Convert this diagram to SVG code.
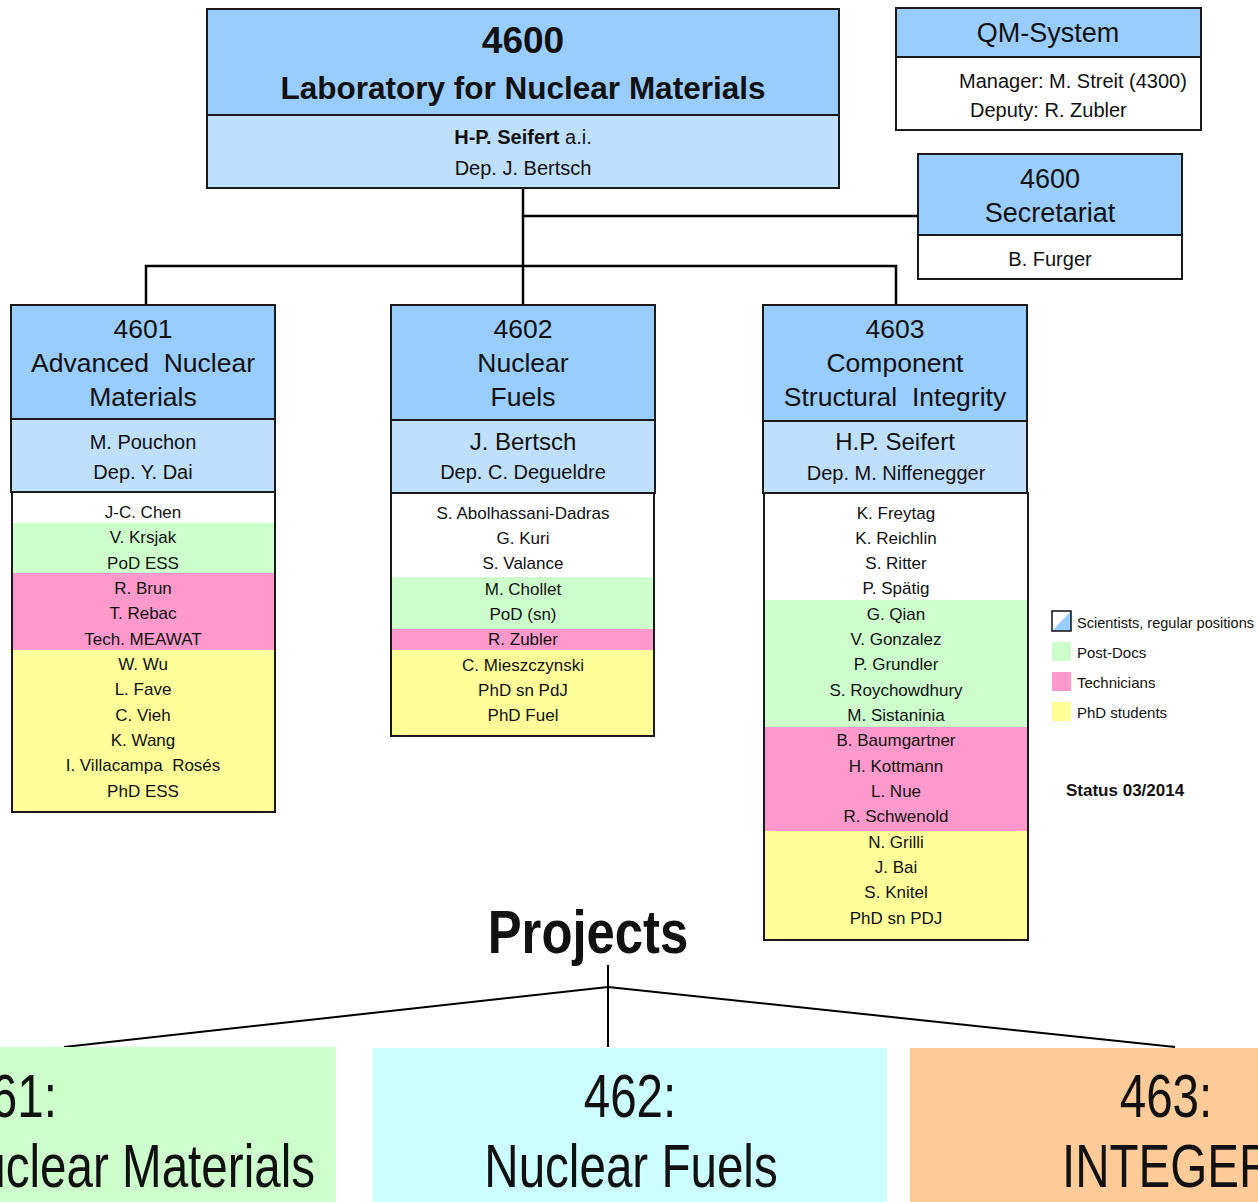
<svg xmlns="http://www.w3.org/2000/svg" width="1258" height="1202" viewBox="0 0 1258 1202">
<style>
text{font-family:"Liberation Sans",Arial,sans-serif;fill:#111;white-space:pre}
.c{text-anchor:middle}
.hd{fill:#99ccff;stroke:#1a1a1a;stroke-width:2}
.ld{fill:#bfdfff;stroke:#1a1a1a;stroke-width:2}
.wb{fill:#ffffff;stroke:#1a1a1a;stroke-width:2}
.frame{fill:none;stroke:#1a1a1a;stroke-width:2}
.pd{fill:#ccffcc}
.te{fill:#ff99cc}
.ph{fill:#ffff99}
.t26{font-size:26.5px}
.t27{font-size:27px}
.t24{font-size:24px}
.t20{font-size:20px}
.t17{font-size:17px}
.t15{font-size:15px}
.big{font-size:61px}
.conn{stroke:#000;stroke-width:2.5;fill:none}
.conn2{stroke:#000;stroke-width:2;fill:none}
</style>

<g id="connectors">
<path class="conn" d="M523,188 V305 M523,216 H918 M146,305 V266 H896 V305"/>
<path class="conn2" d="M608,965 V1047 M608,987 L64,1047 M608,987 L1175,1047"/>
</g>

<g id="lab">
<rect class="hd" x="207" y="9" width="632" height="106"/>
<rect class="ld" x="207" y="115" width="632" height="73"/>
<text class="c" x="523" y="53" style="font-size:37px;font-weight:bold">4600</text>
<text class="c" x="523" y="99" style="font-size:31.5px;font-weight:bold">Laboratory for Nuclear Materials</text>
<text class="c t20" x="523" y="144"><tspan font-weight="bold">H-P. Seifert</tspan> a.i.</text>
<text class="c t20" x="523" y="175">Dep. J. Bertsch</text>
</g>

<g id="qm">
<rect class="hd" x="896" y="8" width="305" height="49"/>
<rect class="wb" x="896" y="57" width="305" height="73"/>
<text class="c t27" x="1048" y="42">QM-System</text>
<text class="t20" x="959" y="88">Manager: M. Streit (4300)</text>
<text class="t20" x="970" y="117">Deputy: R. Zubler</text>
</g>

<g id="secretariat">
<rect class="hd" x="918" y="154" width="264" height="81"/>
<rect class="wb" x="918" y="235" width="264" height="44"/>
<text class="c t27" x="1050" y="188">4600</text>
<text class="c t27" x="1050" y="222">Secretariat</text>
<text class="c t20" x="1050" y="266">B. Furger</text>
</g>

<g id="d4601">
<rect class="pd" x="12" y="523" width="263" height="50"/>
<rect class="te" x="12" y="573" width="263" height="77"/>
<rect class="ph" x="12" y="650" width="263" height="162"/>
<rect class="frame" x="12" y="492" width="263" height="320"/>
<rect class="hd" x="11" y="305" width="264" height="114"/>
<rect class="ld" x="11" y="419" width="264" height="73"/>
<text class="c t26" x="143" y="338">4601</text>
<text class="c t26" x="143" y="372">Advanced  Nuclear</text>
<text class="c t26" x="143" y="406">Materials</text>
<text class="c t20" x="143" y="449">M. Pouchon</text>
<text class="c t20" x="143" y="479">Dep. Y. Dai</text>
<g class="t17">
<text class="c" x="143" y="518">J-C. Chen</text>
<text class="c" x="143" y="543">V. Krsjak</text>
<text class="c" x="143" y="569">PoD ESS</text>
<text class="c" x="143" y="594">R. Brun</text>
<text class="c" x="143" y="619">T. Rebac</text>
<text class="c" x="143" y="645">Tech. MEAWAT</text>
<text class="c" x="143" y="670">W. Wu</text>
<text class="c" x="143" y="695">L. Fave</text>
<text class="c" x="143" y="721">C. Vieh</text>
<text class="c" x="143" y="746">K. Wang</text>
<text class="c" x="143" y="771">I. Villacampa  Rosés</text>
<text class="c" x="143" y="797">PhD ESS</text>
</g>
</g>

<g id="d4602">
<rect class="pd" x="391" y="577" width="263" height="52"/>
<rect class="te" x="391" y="629" width="263" height="21"/>
<rect class="ph" x="391" y="650" width="263" height="86"/>
<rect class="frame" x="391" y="493" width="263" height="243"/>
<rect class="hd" x="391" y="305" width="264" height="115"/>
<rect class="ld" x="391" y="420" width="264" height="73"/>
<text class="c t26" x="523" y="338">4602</text>
<text class="c t26" x="523" y="372">Nuclear</text>
<text class="c t26" x="523" y="406">Fuels</text>
<text class="c t24" x="523" y="450">J. Bertsch</text>
<text class="c t20" x="523" y="479">Dep. C. Degueldre</text>
<g class="t17">
<text class="c" x="523" y="519">S. Abolhassani-Dadras</text>
<text class="c" x="523" y="544">G. Kuri</text>
<text class="c" x="523" y="569">S. Valance</text>
<text class="c" x="523" y="595">M. Chollet</text>
<text class="c" x="523" y="620">PoD (sn)</text>
<text class="c" x="523" y="645">R. Zubler</text>
<text class="c" x="523" y="671">C. Mieszczynski</text>
<text class="c" x="523" y="696">PhD sn PdJ</text>
<text class="c" x="523" y="721">PhD Fuel</text>
</g>
</g>

<g id="d4603">
<rect class="pd" x="764" y="600" width="264" height="127"/>
<rect class="te" x="764" y="727" width="264" height="104"/>
<rect class="ph" x="764" y="831" width="264" height="109"/>
<rect class="frame" x="764" y="493" width="264" height="447"/>
<rect class="hd" x="763" y="305" width="264" height="116"/>
<rect class="ld" x="763" y="421" width="264" height="72"/>
<text class="c t26" x="895" y="338">4603</text>
<text class="c t26" x="895" y="372">Component</text>
<text class="c t26" x="895" y="406">Structural  Integrity</text>
<text class="c t24" x="895" y="450">H.P. Seifert</text>
<text class="c t20" x="896" y="480">Dep. M. Niffenegger</text>
<g class="t17">
<text class="c" x="896" y="519">K. Freytag</text>
<text class="c" x="896" y="544">K. Reichlin</text>
<text class="c" x="896" y="569">S. Ritter</text>
<text class="c" x="896" y="594">P. Spätig</text>
<text class="c" x="896" y="620">G. Qian</text>
<text class="c" x="896" y="645">V. Gonzalez</text>
<text class="c" x="896" y="670">P. Grundler</text>
<text class="c" x="896" y="696">S. Roychowdhury</text>
<text class="c" x="896" y="721">M. Sistaninia</text>
<text class="c" x="896" y="746">B. Baumgartner</text>
<text class="c" x="896" y="772">H. Kottmann</text>
<text class="c" x="896" y="797">L. Nue</text>
<text class="c" x="896" y="822">R. Schwenold</text>
<text class="c" x="896" y="848">N. Grilli</text>
<text class="c" x="896" y="873">J. Bai</text>
<text class="c" x="896" y="898">S. Knitel</text>
<text class="c" x="896" y="924">PhD sn PDJ</text>
</g>
</g>

<g id="legend">
<rect x="1052" y="611" width="19" height="20" fill="#fff"/>
<polygon points="1071,611 1071,631 1052,631" fill="#99ccff"/>
<rect x="1052" y="611" width="19" height="20" fill="none" stroke="#111" stroke-width="1.5"/>
<text class="t15" x="1077" y="628" textLength="177" lengthAdjust="spacingAndGlyphs">Scientists, regular positions</text>
<rect class="pd" x="1052" y="642" width="19" height="19"/>
<text class="t15" x="1077" y="658">Post-Docs</text>
<rect class="te" x="1052" y="672" width="19" height="19"/>
<text class="t15" x="1077" y="688">Technicians</text>
<rect class="ph" x="1052" y="702" width="19" height="19"/>
<text class="t15" x="1077" y="718">PhD students</text>
<text x="1066" y="796" style="font-size:17px;font-weight:bold">Status 03/2014</text>
</g>

<g id="projects-title">
<text class="c" transform="translate(588,953) scale(0.82,1)" style="font-size:62px;font-weight:bold">Projects</text>
</g>

<g id="p461">
<rect x="-20" y="1047" width="356" height="160" fill="#ccffcc"/>
<text class="big" text-anchor="end" transform="translate(57,1117) scale(0.78,1)">461:</text>
<text class="big" text-anchor="end" transform="translate(315,1187) scale(0.78,1)">Nuclear Materials</text>
</g>

<g id="p462">
<rect x="373" y="1048" width="514" height="160" fill="#ccffff"/>
<text class="big c" transform="translate(630,1117) scale(0.78,1)">462:</text>
<text class="big c" transform="translate(631,1187) scale(0.78,1)">Nuclear Fuels</text>
</g>

<g id="p463">
<rect x="910" y="1048" width="360" height="160" fill="#ffcc99"/>
<text class="big c" transform="translate(1166,1117) scale(0.78,1)">463:</text>
<text class="big" transform="translate(1062,1187) scale(0.78,1)">INTEGER</text>
</g>
</svg>
